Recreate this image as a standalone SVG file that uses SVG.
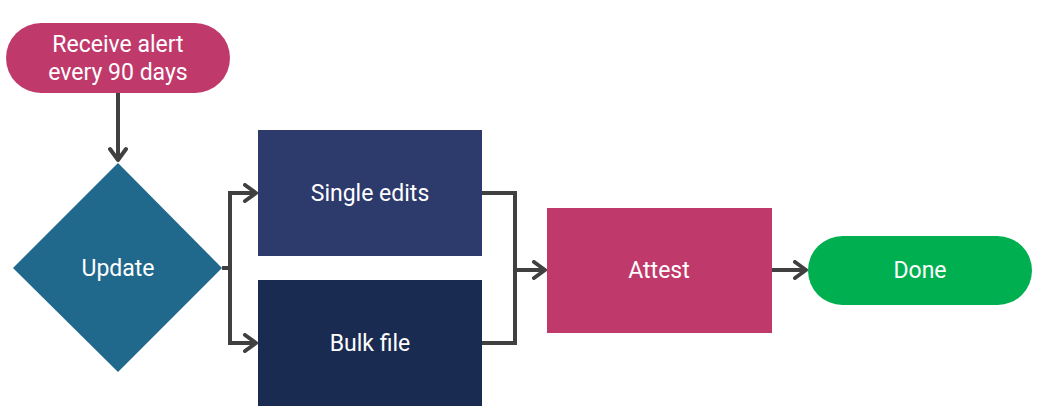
<svg xmlns="http://www.w3.org/2000/svg" width="1038" height="411" viewBox="0 0 1038 411">
<style>
.lbl{font-family:Roboto,"Liberation Sans",sans-serif;font-size:23px;fill:#ffffff;text-anchor:middle;dominant-baseline:central}
.conn{fill:none;stroke:#404040;stroke-width:4}
</style>
<defs>
<marker id="arr" viewBox="0 0 16 20" refX="14" refY="10" markerWidth="16" markerHeight="20" markerUnits="userSpaceOnUse" orient="auto">
<path d="M3,2 L14,10 L3,18" fill="none" stroke="#404040" stroke-width="4" stroke-linecap="round" stroke-linejoin="round"/>
</marker>
</defs>
<rect width="1038" height="411" fill="#ffffff"/>
<g id="connectors">
<path class="conn" d="M118,93 V160" marker-end="url(#arr)"/>
<path class="conn" d="M222,268 H230 V193 H256" marker-end="url(#arr)"/>
<path class="conn" d="M230,268 V343 H256" marker-end="url(#arr)"/>
<path class="conn" d="M482,193 H515 V343 H482"/>
<path class="conn" d="M515,270 H545" marker-end="url(#arr)"/>
<path class="conn" d="M772,270 H806" marker-end="url(#arr)"/>
</g>
<g id="start">
<rect x="6" y="23" width="224" height="70" rx="35" fill="#C0396B"/>
<text class="lbl" x="118" y="44">Receive alert</text>
<text class="lbl" x="118" y="72">every 90 days</text>
</g>
<g id="update">
<polygon points="118,163 222,268 118,372 13,268" fill="#20698C"/>
<text class="lbl" x="118" y="268">Update</text>
</g>
<g id="single">
<rect x="258" y="130" width="224" height="126" fill="#2D3A6C"/>
<text class="lbl" x="370" y="193">Single edits</text>
</g>
<g id="bulk">
<rect x="258" y="280" width="224" height="126" fill="#1A2B52"/>
<text class="lbl" x="370" y="343">Bulk file</text>
</g>
<g id="attest">
<rect x="547" y="208" width="225" height="125" fill="#C0396B"/>
<text class="lbl" x="659" y="270">Attest</text>
</g>
<g id="done">
<rect x="808" y="236" width="224" height="69" rx="34.5" fill="#00B050"/>
<text class="lbl" x="920" y="270">Done</text>
</g>
</svg>
